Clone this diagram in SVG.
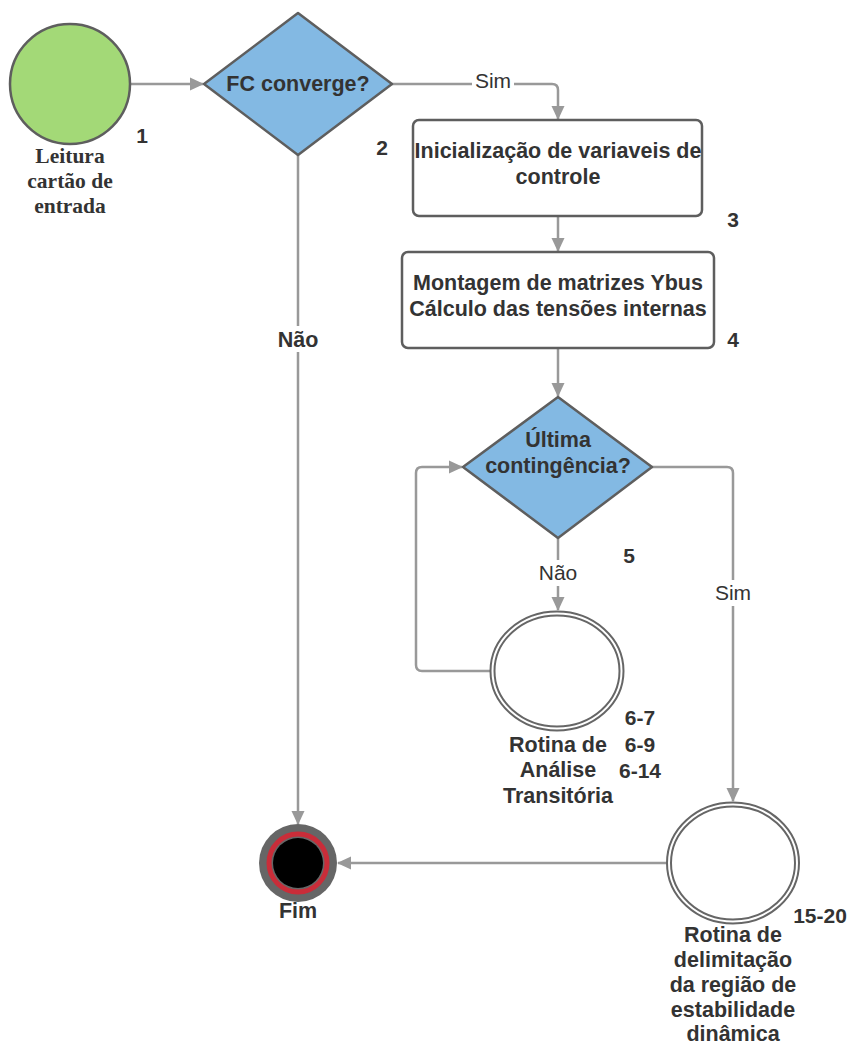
<svg xmlns="http://www.w3.org/2000/svg" width="849" height="1044" viewBox="0 0 849 1044">
<style>
.t{font-family:"Liberation Sans",Arial,sans-serif;font-weight:bold;font-size:21.5px;fill:#333;text-anchor:middle}
.lbl{font-family:"Liberation Sans",Arial,sans-serif;font-size:21px;fill:#333;text-anchor:middle}
.num{font-family:"Liberation Sans",Arial,sans-serif;font-weight:bold;font-size:21px;fill:#333;text-anchor:middle}
.serif{font-family:"Liberation Serif","Times New Roman",serif;font-weight:bold;font-size:21.5px;fill:#333;text-anchor:middle}
.c{fill:none;stroke:#999;stroke-width:2.5}
.dia{fill:#83b9e3;stroke:#5e5e5e;stroke-width:2.5;stroke-linejoin:round}
.box{fill:#fff;stroke:#5e5e5e;stroke-width:2.5}
.dbl{fill:#fff;stroke:#666;stroke-width:2}
</style>
<defs>
<marker id="a" viewBox="0 0 14 14" refX="13" refY="7" markerWidth="14" markerHeight="14" markerUnits="userSpaceOnUse" orient="auto">
<path d="M0,0.5 L14,7 L0,13.5 z" fill="#999"/>
</marker>
</defs>
<rect width="849" height="1044" fill="#fff"/>
<g id="connectors">
<path class="c" d="M130,84 H203" marker-end="url(#a)"/>
<path class="c" d="M392,84 H552 Q558,84 558,90 V119" marker-end="url(#a)"/>
<path class="c" d="M558,216 V251" marker-end="url(#a)"/>
<path class="c" d="M558,348 V396" marker-end="url(#a)"/>
<path class="c" d="M558,538 V610" marker-end="url(#a)"/>
<path class="c" d="M490,671 H422 Q416,671 416,665 V473 Q416,467 422,467 H462" marker-end="url(#a)"/>
<path class="c" d="M652,467 H727 Q733,467 733,473 V801" marker-end="url(#a)"/>
<path class="c" d="M298,155 V824" marker-end="url(#a)"/>
<path class="c" d="M667,863 H338" marker-end="url(#a)"/>
<rect x="472" y="69" width="42" height="24" fill="#fff"/>
<text class="lbl" x="493" y="88">Sim</text>
<rect x="274" y="326" width="48" height="26" fill="#fff"/>
<text class="t" x="298" y="347">Não</text>
<rect x="534" y="560" width="48" height="26" fill="#fff"/>
<text class="lbl" x="558" y="580">Não</text>
<rect x="712" y="580" width="42" height="26" fill="#fff"/>
<text class="lbl" x="733" y="600">Sim</text>
</g>
<g id="n1">
<circle cx="70" cy="84" r="60" fill="#a3d977" stroke="#5e5e5e" stroke-width="2.5"/>
<text class="serif" x="70" y="163">Leitura</text>
<text class="serif" x="70" y="188">cartão de</text>
<text class="serif" x="70" y="213">entrada</text>
<text class="num" x="142" y="143">1</text>
</g>
<g id="n2">
<path class="dia" d="M204,84 L298,13 L392,84 L298,155 Z"/>
<text class="t" x="298" y="91">FC converge?</text>
<text class="num" x="382" y="155">2</text>
</g>
<g id="n3">
<rect class="box" x="413" y="120" width="289" height="96" rx="6"/>
<text class="t" x="558" y="158">Inicialização de variaveis de</text>
<text class="t" x="558" y="184">controle</text>
<text class="num" x="733" y="227">3</text>
</g>
<g id="n4">
<rect class="box" x="402" y="252" width="312" height="96" rx="6"/>
<text class="t" x="558" y="290">Montagem de matrizes Ybus</text>
<text class="t" x="558" y="316">Cálculo das tensões internas</text>
<text class="num" x="733" y="347">4</text>
</g>
<g id="n5">
<path class="dia" d="M463,467 L558,397 L652,467 L558,538 Z"/>
<text class="t" x="558" y="447">Última</text>
<text class="t" x="558" y="473">contingência?</text>
<text class="num" x="629" y="563">5</text>
</g>
<g id="n6">
<ellipse class="dbl" cx="557" cy="671" rx="66.5" ry="59.5"/>
<ellipse class="dbl" cx="557" cy="671" rx="62.5" ry="55.5"/>
<text class="t" x="558" y="752">Rotina de</text>
<text class="t" x="558" y="777">Análise</text>
<text class="t" x="558" y="803">Transitória</text>
<text class="num" x="640" y="725">6-7</text>
<text class="num" x="640" y="752">6-9</text>
<text class="num" x="640" y="778">6-14</text>
</g>
<g id="n7">
<ellipse class="dbl" cx="733" cy="863" rx="66" ry="60.5"/>
<ellipse class="dbl" cx="733" cy="863" rx="62" ry="56.5"/>
<text class="t" x="733" y="942">Rotina de</text>
<text class="t" x="733" y="967">delimitação</text>
<text class="t" x="733" y="992">da região de</text>
<text class="t" x="733" y="1017">estabilidade</text>
<text class="t" x="733" y="1041">dinâmica</text>
<text class="num" x="820" y="923">15-20</text>
</g>
<g id="fim">
<circle cx="298" cy="863" r="39" fill="#666"/>
<circle cx="298" cy="863" r="29" fill="none" stroke="#c92d39" stroke-width="5"/>
<circle cx="298" cy="863" r="25" fill="#000"/>
<text class="t" x="298" y="918">Fim</text>
</g>
</svg>
